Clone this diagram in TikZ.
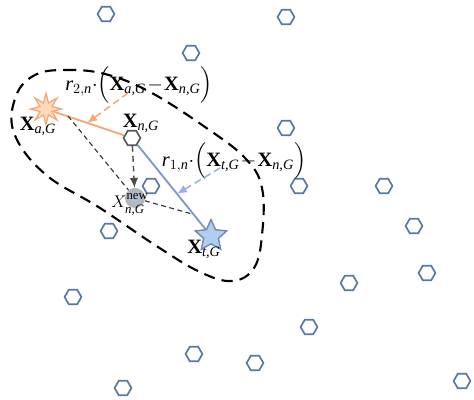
\documentclass[tikz,border=0pt]{standalone}
\usepackage{amsmath}
\usepackage{fontspec}
\setmainfont{Liberation Serif}
\usetikzlibrary{shapes.geometric,arrows.meta,calc}

\definecolor{hexblue}{RGB}{88,118,168}
\definecolor{orgline}{RGB}{242,168,122}
\definecolor{orgfill}{RGB}{252,216,188}
\definecolor{blueline}{RGB}{125,150,205}
\definecolor{bluedash}{RGB}{150,178,225}
\definecolor{starblue}{RGB}{178,206,236}
\definecolor{newblue}{RGB}{170,196,226}

\newcommand{\Xg}[1]{\textbf{X}_{\textit{#1}}}
\newcommand{\diffterm}[3]{\medmuskip=1mu
    \textit{r}_{#1,\textit{n}}{\cdot}\Bigl(\Xg{#2,G}-\Xg{#3,G}\Bigr)}

\begin{document}
\begin{tikzpicture}[x=0.025cm,y=-0.025cm,
    font=\fontsize{14.5}{17}\selectfont,
    hexa/.style={regular polygon,regular polygon sides=6,draw=hexblue,
        line width=1.2pt,minimum size=0.42cm,inner sep=0pt},
    region/.style={line width=1.5pt,dash pattern=on 8pt off 5pt},
    thindash/.style={black!80,line width=0.8pt,dash pattern=on 3.5pt off 2.5pt}]
    \useasboundingbox (0,0) rectangle (474,400);

    % Neighbourhood of the current individual
    \draw[region] plot[smooth cycle,tension=0.65] coordinates {
        (35,75) (65,70) (105,74) (150,92) (205,127) (245,158) (262,188)
        (262,235) (254,268) (232,281) (200,272) (158,247) (100,208)
        (45,174) (14,133) (16,96)};

    % Population
    \foreach \p [count=\i] in {(106,14),(286,17),(191,53),(286,128),(299,186),
        (384,186),(414,226),(151,186),(109,231),(73,297),(349,283),(427,273),
        (309,327),(194,354),(255,363),(123,388),(462,381)}
        \node[hexa] (h\i) at \p {};

    % Special individuals
    \node[star,star points=8,star point ratio=2.4,minimum size=0.78cm,inner sep=0pt,
        draw=orgline,fill=orgfill,line width=0.9pt] (a) at (46,109) {};
    \node[star,star points=5,star point ratio=2.1,minimum size=0.82cm,inner sep=0pt,
        draw=blueline!90!black,fill=starblue,line width=1pt] (t) at (211,236) {};
    \node[hexa,draw=black!65,fill=white] (n) at (132,138) {};
    \node[circle,minimum size=0.5cm,inner sep=0pt,inner color=newblue,
        outer color=black!30] (new) at (135,198) {};

    % Labels
    \node (la) at (38,126) {$\Xg{a,G}$};
    \node (ln) at (141,123) {$\Xg{n,G}$};
    \node (lt) at (204,249) {$\Xg{t,G}$};
    \node[font=\fontsize{13}{15}\selectfont] (lnew) at (130,204)
        {$X^{\text{\raisebox{2pt}{new}}}_{\textit{n,G}}$};
    \node (lab2) at (139,85) {$\diffterm{2}{a}{n}$};
    \node (lab1) at (234,161) {$\diffterm{1}{t}{n}$};

    % Difference vectors
    \draw[orgline,line width=1.3pt] (a) -- (n);
    \draw[blueline,line width=1.3pt] (n) -- (t);
    \coordinate (o1) at (128,93);
    \coordinate (b1) at (220,168);
    \coordinate (a1) at (68,116);
    \draw[orgline,line width=1.1pt,dash pattern=on 5pt off 3pt,-{Latex[length=7pt,width=6pt]}]
        (o1) -- ($(a)!0.48!(n)$);
    \draw[bluedash,line width=1.1pt,dash pattern=on 5pt off 3pt,-{Latex[length=7pt,width=6pt]}]
        (b1) -- ($(n)!0.57!(t)$);
    \draw[black!70,line width=1pt,dash pattern=on 4pt off 3pt,-{Latex[length=7pt,width=6pt]}]
        (n) -- (new);
    \draw[thindash] (a1) -- (new);
    \draw[thindash] (new) -- ($(n)!0.78!(t)$);
\end{tikzpicture}
\end{document}
